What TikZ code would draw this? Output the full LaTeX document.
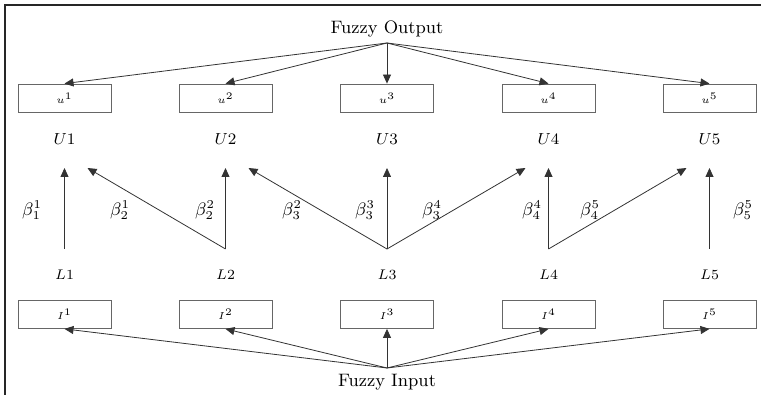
\documentclass[tikz,border=0pt]{standalone}
\usepackage{amsmath,amssymb}
\usetikzlibrary{arrows.meta, positioning}

\begin{document}
\begin{tikzpicture}[x=0.5pt, y=0.5pt,
    box/.style={draw=black!60, minimum width=46.5pt, minimum height=14pt, inner sep=0pt, font=\tiny},
    arr/.style={draw=black!80, line width=0.4pt, -{Triangle[length=4.5pt,width=4pt]}},
    lbl/.style={inner sep=0pt}]
\useasboundingbox (0,0) rectangle (761,395);
\draw[line width=1pt, black!85] (4.5,0) -- (4.5,390) -- (761,390);

\node[font=\small] (out) at (387,366) {Fuzzy Output};
\coordinate (out-src) at (387,352);
\node[font=\small] (in) at (387,13) {Fuzzy Input};
\coordinate (in-src) at (387,27);

% one column per rule
\foreach \i/\x in {1/64.5, 2/225.5, 3/387, 4/548.5, 5/709.5} {
    \node[box] (u\i) at (\x,297) {$u^{\i}$};
    \node[lbl, font=\footnotesize] (U\i) at (\x,256) {$U\i$};
    \node[lbl, font=\scriptsize] (L\i) at (\x,120) {$L\i$};
    \node[box] (i\i) at (\x,80.5) {$I^{\i}$};
    \coordinate (top\i) at (\x,227);
    \coordinate (bot\i) at (\x,146);
    \draw[arr] (out-src) -- (u\i.north);
    \draw[arr] (in-src) -- (i\i.south);
    \draw[arr] (bot\i) -- (top\i);
}

% cross links
\draw[arr] (bot2) -- ([xshift=11.5pt]top1);
\draw[arr] (bot3) -- ([xshift=11.5pt]top2);
\draw[arr] (bot3) -- ([xshift=-11.5pt]top4);
\draw[arr] (bot4) -- ([xshift=-11.5pt]top5);

% weights
\foreach \n/\x/\s/\t in {b11/32/1/1, b21/120/2/1, b22/205/2/2, b32/292/3/2, b33/365/3/3,
                         b34/432/3/4, b44/532/4/4, b45/590/4/5, b55/743/5/5}
    \node[lbl, font=\small] (\n) at (\x,185) {$\beta_{\s}^{\t}$};
\end{tikzpicture}
\end{document}
